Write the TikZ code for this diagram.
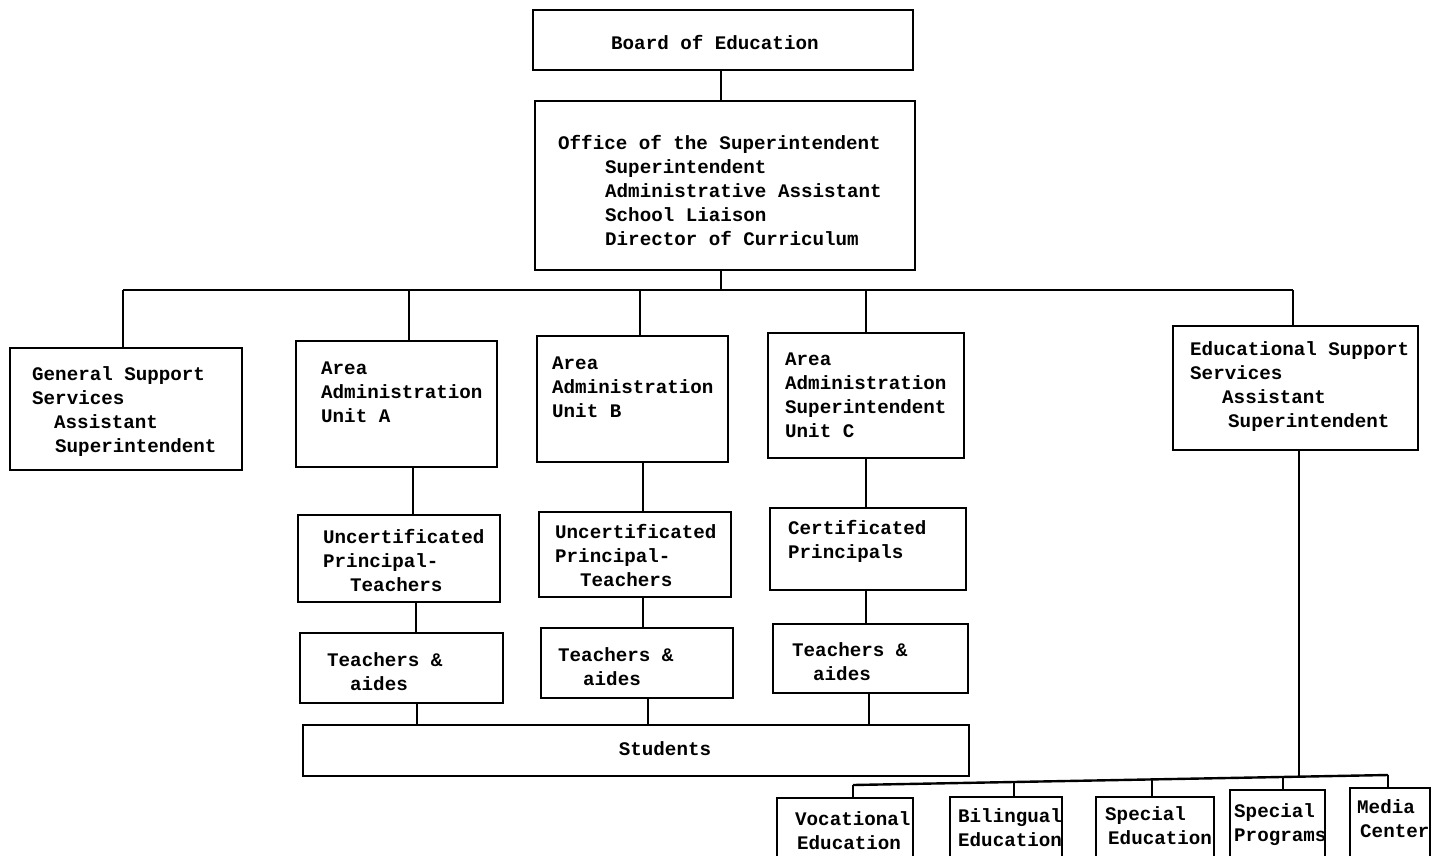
\documentclass[tikz,border=0pt]{standalone}
\usepackage{fontspec}
\newfontfamily\tw{Liberation Mono}
\begin{document}
\begin{tikzpicture}[x=1pt,y=-1pt,
  box/.style={draw, line width=2.8pt, inner sep=0pt},
  wire/.style={line width=2.4pt},
  txt/.style={font=\tw\bfseries\fontsize{19.2}{24}\selectfont, inner sep=0pt, align=left, anchor=base west}]
\useasboundingbox (0,0) rectangle (1433,855);
\fill[white] (0,0) rectangle (1433,855);
\clip (0,0) rectangle (1433,855);
% boxes
\node[box, minimum width=380pt, minimum height=60pt] (board) at (723,40) {};
\node[box, minimum width=380pt, minimum height=169pt] (office) at (725,185.5) {};
\node[box, minimum width=232pt, minimum height=122pt] (gen) at (126,409) {};
\node[box, minimum width=201pt, minimum height=126pt] (areaA) at (396.5,404) {};
\node[box, minimum width=191pt, minimum height=126pt] (areaB) at (632.5,399) {};
\node[box, minimum width=196pt, minimum height=125pt] (areaC) at (866,395.5) {};
\node[box, minimum width=245pt, minimum height=124pt] (edu) at (1295.5,388) {};
\node[box, minimum width=202pt, minimum height=87pt] (uncA) at (399,558.5) {};
\node[box, minimum width=192pt, minimum height=85pt] (uncB) at (635,554.5) {};
\node[box, minimum width=196pt, minimum height=82pt] (cert) at (868,549) {};
\node[box, minimum width=203pt, minimum height=70pt] (teaA) at (401.5,668) {};
\node[box, minimum width=192pt, minimum height=70pt] (teaB) at (637,663) {};
\node[box, minimum width=195pt, minimum height=69pt] (teaC) at (870.5,658.5) {};
\node[box, minimum width=666pt, minimum height=51pt] (stud) at (636,750.5) {};
\node[box, minimum width=136pt, minimum height=72pt] (voc) at (845,834) {};
\node[box, minimum width=112pt, minimum height=73pt] (bil) at (1006,833.5) {};
\node[box, minimum width=118pt, minimum height=73pt] (sped) at (1155,833.5) {};
\node[box, minimum width=95pt, minimum height=80pt] (sprog) at (1277.5,830) {};
\node[box, minimum width=80pt, minimum height=82pt] (media) at (1390,829) {};
% texts (base anchor = baseline of the last line)
\node[txt] (boardT) at (611,49) {Board of Education};
\node[txt] (officeT) at (558,245) {Office of the Superintendent\\\hspace*{47pt}Superintendent\\\hspace*{47pt}Administrative Assistant\\\hspace*{47pt}School Liaison\\\hspace*{47pt}Director of Curriculum};
\node[txt] (genT) at (32,452) {General Support\\Services\\\hspace*{22pt}Assistant\\\hspace*{23pt}Superintendent};
\node[txt] (areaAT) at (321,422) {Area\\Administration\\Unit A};
\node[txt] (areaBT) at (552,417) {Area\\Administration\\Unit B};
\node[txt] (areaCT) at (785,437.5) {Area\\Administration\\Superintendent\\Unit C};
\node[txt] (eduT) at (1190,427) {Educational Support\\Services\\\hspace*{32pt}Assistant\\\hspace*{38pt}Superintendent};
\node[txt] (uncAT) at (323,591) {Uncertificated\\Principal-\\\hspace*{27pt}Teachers};
\node[txt] (uncBT) at (555,586) {Uncertificated\\Principal-\\\hspace*{25pt}Teachers};
\node[txt] (certT) at (788,558) {Certificated\\Principals};
\node[txt] (teaAT) at (327,690) {Teachers \&\\\hspace*{23pt}aides};
\node[txt] (teaBT) at (558,685) {Teachers \&\\\hspace*{25pt}aides};
\node[txt] (teaCT) at (792,680) {Teachers \&\\\hspace*{21pt}aides};
\node[txt, anchor=base] (studT) at (665,755) {Students};
\node[txt] (vocT) at (795,849.5) {Vocational\\\hspace*{2pt}Education};
\node[txt] (bilT) at (958,846.5) {Bilingual\\Education};
\node[txt] (spedT) at (1105,844) {Special\\\hspace*{3pt}Education};
\node[txt] (sprogT) at (1234,841) {Special\\Programs};
\node[txt] (mediaT) at (1357,837) {Media\\\hspace*{3pt}Center};
% bus coordinates
\coordinate (b0) at (721,290);
\coordinate (b1) at (123,290);
\coordinate (b2) at (409,290);
\coordinate (b3) at (640,290);
\coordinate (b4) at (866,290);
\coordinate (b5) at (1293,290);
\coordinate (xA1) at (413,0);
\coordinate (xA2) at (416,0);
\coordinate (xA3) at (417,0);
\coordinate (xB1) at (643,0);
\coordinate (xB2) at (643,0);
\coordinate (xB3) at (648,0);
\coordinate (xC1) at (866,0);
\coordinate (xC2) at (866,0);
\coordinate (xC3) at (869,0);
\coordinate (e1) at (853,785);
\coordinate (e2) at (1014,782);
\coordinate (e3) at (1152,779.5);
\coordinate (e4) at (1283,777);
\coordinate (e0) at (1299,776.5);
\coordinate (e5) at (1388,775);
% connectors
\draw[wire] (board.south -| b0) -- (office.north -| b0);
\draw[wire] (office.south -| b0) -- (b0);
\draw[wire] (b1) -- (b5);
\draw[wire] (b1) -- (b1 |- gen.north);
\draw[wire] (b2) -- (b2 |- areaA.north);
\draw[wire] (b3) -- (b3 |- areaB.north);
\draw[wire] (b4) -- (b4 |- areaC.north);
\draw[wire] (b5) -- (b5 |- edu.north);
\draw[wire] (areaA.south -| xA1) -- (uncA.north -| xA1);
\draw[wire] (uncA.south -| xA2) -- (teaA.north -| xA2);
\draw[wire] (teaA.south -| xA3) -- (stud.north -| xA3);
\draw[wire] (areaB.south -| xB1) -- (uncB.north -| xB1);
\draw[wire] (uncB.south -| xB2) -- (teaB.north -| xB2);
\draw[wire] (teaB.south -| xB3) -- (stud.north -| xB3);
\draw[wire] (areaC.south -| xC1) -- (cert.north -| xC1);
\draw[wire] (cert.south -| xC2) -- (teaC.north -| xC2);
\draw[wire] (teaC.south -| xC3) -- (stud.north -| xC3);
\draw[wire] (edu.south -| e0) -- (e0);
\draw[wire] (e1) -- (e5);
\draw[wire] (e1) -- (e1 |- voc.north);
\draw[wire] (e2) -- (e2 |- bil.north);
\draw[wire] (e3) -- (e3 |- sped.north);
\draw[wire] (e4) -- (e4 |- sprog.north);
\draw[wire] (e5) -- (e5 |- media.north);
\end{tikzpicture}
\end{document}
